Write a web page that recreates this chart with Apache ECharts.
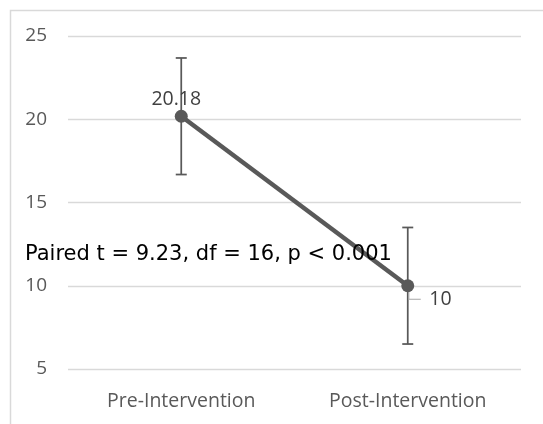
<!DOCTYPE html>
<html>
<head>
<meta charset="utf-8">
<script src="https://cdn.jsdelivr.net/npm/echarts@6/dist/echarts.min.js"></script>
<style>
  html, body { margin: 0; padding: 0; background: #fff; }
  #chart { width: 543px; height: 424px; }
</style>
</head>
<body>
<div id="chart"></div>
<script>
var categories = ['Pre-Intervention', 'Post-Intervention'];
var means = [20.18, 10];
var upper = [23.68, 13.5];
var lower = [16.68, 6.5];
var yTicks = { min: 5, max: 25, interval: 5 };
var note = 'Paired t = 9.23, df = 16, p < 0.001';

var errData = [];
for (var i = 0; i < categories.length; i++) {
	errData.push([i, lower[i], upper[i]]);
}

// data labels: first one sits on top, second one lower right with a leader
var lineData = means.map(function (v, i) {
	if (i === 1) {
		return { value: v, label: { position: 'right', distance: 15, offset: [0, 14] } };
	}
	return v;
});

var option = {
	animation: false,
	grid: { left: 68, right: 22, top: 36, bottom: 55 },
	xAxis: {
		type: 'category',
		data: categories,
		boundaryGap: true,
		axisLine: { show: false },
		axisTick: { show: false },
		axisLabel: {
			color: '#595959',
			fontFamily: 'Open Sans',
			fontSize: 19.5,
			margin: 22
		}
	},
	yAxis: {
		type: 'value',
		min: yTicks.min,
		max: yTicks.max,
		interval: yTicks.interval,
		axisLine: { show: false },
		axisTick: { show: false },
		axisLabel: {
			color: '#595959',
			fontFamily: 'Open Sans',
			fontSize: 19,
			margin: 21
		},
		splitLine: { lineStyle: { color: '#d9d9d9', width: 1.3 } }
	},
	graphic: [
		{
			type: 'rect',
			left: 8, top: 8,
			shape: { width: 700, height: 600 },
			style: { fill: 'none', stroke: '#d9d9d9', lineWidth: 1.5 },
			silent: true
		},
		{
			type: 'text',
			left: 25, top: 244,
			z: 100,
			style: {
				text: note,
				fill: '#000',
				fontFamily: 'DejaVu Sans',
				fontSize: 21
			}
		}
	],
	series: [
		{
			// error bars
			type: 'custom',
			z: 1,
			data: errData,
			renderItem: function (params, api) {
				var x = api.value(0);
				var lo = api.coord([x, api.value(1)]);
				var hi = api.coord([x, api.value(2)]);
				var w = 5.5;
				var style = { stroke: '#595959', lineWidth: 1.75 };
				return {
					type: 'group',
					children: [
						{ type: 'line', shape: { x1: hi[0], y1: hi[1], x2: lo[0], y2: lo[1] }, style: style },
						{ type: 'line', shape: { x1: hi[0] - w, y1: hi[1], x2: hi[0] + w, y2: hi[1] }, style: style },
						{ type: 'line', shape: { x1: lo[0] - w, y1: lo[1], x2: lo[0] + w, y2: lo[1] }, style: style }
					]
				};
			}
		},
		{
			// leader line for the post label
			type: 'custom',
			z: 2,
			data: [[1, means[1]]],
			renderItem: function (params, api) {
				var p = api.coord([api.value(0), api.value(1)]);
				return {
					type: 'polyline',
					shape: { points: [[p[0] + 1, p[1]], [p[0] + 1, p[1] + 13.5], [p[0] + 13, p[1] + 13.5]] },
					style: { stroke: '#a6a6a6', lineWidth: 1.2, fill: null }
				};
			}
		},
		{
			type: 'line',
			z: 3,
			data: lineData,
			symbol: 'circle',
			symbolSize: 13,
			lineStyle: { color: '#595959', width: 4.5 },
			itemStyle: { color: '#595959' },
			label: {
				show: true,
				position: 'top',
				distance: 0,
				offset: [-5, 0],
				color: '#404040',
				fontFamily: 'Open Sans',
				fontSize: 19.5
			}
		}
	]
};

var myChart = echarts.init(document.getElementById('chart'));
myChart.setOption(option);
</script>
</body>
</html>
